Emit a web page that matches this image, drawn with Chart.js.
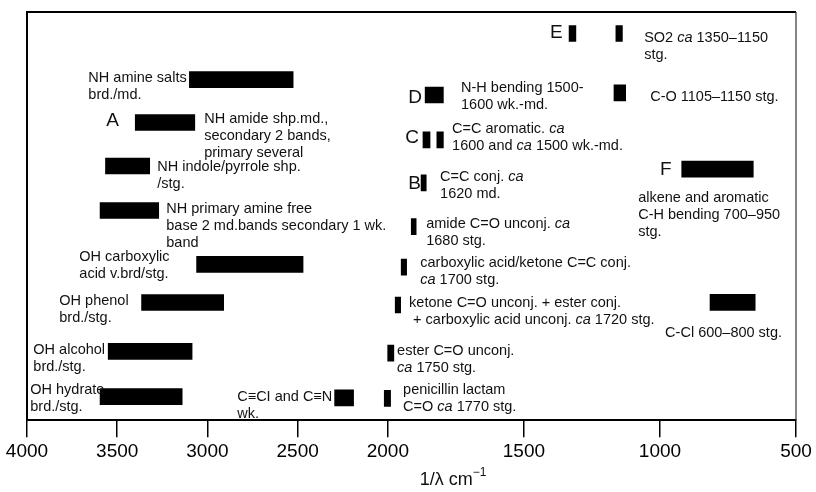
<!DOCTYPE html>
<html>
<head>
<meta charset="utf-8">
<script src="https://cdn.jsdelivr.net/npm/chart.js@4"></script>
<style>
html,body{margin:0;padding:0;background:#fff}
#wrap{width:816px;height:492px}
</style>
</head>
<body>
<div id="wrap"><canvas id="c" width="816" height="492"></canvas></div>
<script>
// ---------- data (wavenumbers in cm^-1, rows counted from the top) ----------
const bandNames = [
  "NH amine salts", "NH amide (A)", "NH indole/pyrrole", "NH primary amine",
  "OH carboxylic", "OH phenol", "OH alcohol", "OH hydrate", "C≡C / C≡N",
  "penicillin lactam", "ester C=O", "ketone C=O", "carboxylic acid/ketone conj.",
  "amide C=O", "C=C conj. (B)", "C=C aromatic (C) 1", "C=C aromatic (C) 2",
  "N-H bending (D)", "SO2 (E) 1", "SO2 (E) 2", "C-O", "alkene/aromatic C-H (F)", "C-Cl"
];
const bandHigh = [3100, 3400, 3565, 3595, 3060, 3365, 3550, 3595, 2295, 2020, 2001, 1973, 1951, 1914, 1878, 1871, 1820, 1863, 1334, 1162, 1169, 920, 816];
const bandLow  = [2525, 3070, 3320, 3270, 2470, 2910, 3085, 3140, 2190, 1990, 1978, 1953, 1931, 1896, 1859, 1845, 1796, 1796, 1309, 1138, 1126, 657, 650];
const bandRow  = [4.47, 7.31, 10.19, 13.13, 16.69, 19.22, 22.45, 25.44, 25.53, 25.56, 22.57, 19.38, 16.88, 14.2, 11.3, 8.46, 8.46, 5.49, 1.42, 1.42, 5.35, 10.39, 19.21];

const tickValues = [4000, 3500, 3000, 2500, 2000, 1500, 1000, 500];

// annotation texts (segments between * are italic), anchored at wavenumber / row
const labelLines = [
  ["NH amine salts", "brd./md."],
  ["A"],
  ["NH amide shp.md.,", "secondary 2 bands,", "primary several"],
  ["NH indole/pyrrole shp.", "/stg."],
  ["NH primary amine free", "base 2 md.bands secondary 1 wk.", "band"],
  ["OH carboxylic", "acid v.brd/stg."],
  ["OH phenol", "brd./stg."],
  ["OH alcohol", "brd./stg."],
  ["OH hydrate", "brd./stg."],
  ["C≡CI and C≡N", "wk."],
  ["E"],
  ["SO2 *ca* 1350–1150", "stg."],
  ["D"],
  ["N-H bending 1500-", "1600 wk.-md."],
  ["C-O 1105–1150 stg."],
  ["C"],
  ["C=C aromatic. *ca*", "1600 and *ca* 1500 wk.-md."],
  ["F"],
  ["B"],
  ["C=C conj. *ca*", "1620 md."],
  ["alkene and aromatic", "C-H bending 700–950", "stg."],
  ["amide C=O unconj. *ca*", "1680 stg."],
  ["carboxylic acid/ketone C=C conj.", "*ca* 1700 stg."],
  ["ketone C=O unconj. + ester conj.", " + carboxylic acid unconj. *ca* 1720 stg."],
  ["C-Cl 600–800 stg."],
  ["ester C=O unconj.", "*ca* 1750 stg."],
  ["penicillin lactam", "C=O *ca* 1770 stg."]
];
const labelX   = [3660, 3561, 3018, 3278, 3228, 3710, 3821, 3965, 3982, 2835, 1404, 1058, 1925, 1731, 1036, 1936, 1764, 1000, 1925, 1808, 1080, 1859, 1881, 1922, 981, 1966, 1944];
const labelRow = [4.39, 7.18, 7.05, 10.24, 13.03, 16.22, 19.15, 22.34, 25.0, 25.47, 1.40, 1.73, 5.65, 5.05, 5.65, 8.31, 7.71, 10.44, 11.35, 10.9, 12.3, 14.03, 16.62, 19.22, 21.21, 22.41, 25.0];
const bigLetters = ["A", "B", "C", "D", "E", "F"];

// ---------- chart ----------
const FONT = "'Liberation Sans', Arial, Helvetica, sans-serif";
const SCALE_RATIO = 1.508; // the axis is expanded below 2000 cm^-1
const toT = v => v >= 2000 ? 4000 - v : 2000 + (2000 - v) * SCALE_RATIO;

const bars = bandHigh.map((h, i) => ({ x: [toT(h), toT(bandLow[i])], y: bandRow[i] }));

function drawRich(ctx, text, x, y, size) {
  const parts = text.split('*');
  let cx = x;
  parts.forEach((p, i) => {
    ctx.font = (i % 2 ? 'italic ' : '') + size + 'px ' + FONT;
    ctx.fillText(p, cx, y);
    cx += ctx.measureText(p).width;
  });
}

const framePlugin = {
  id: 'frame',
  beforeDatasetsDraw(chart) {
    const { ctx, chartArea: a } = chart;
    ctx.save();
    ctx.strokeStyle = '#000';
    ctx.lineWidth = 2;
    ctx.beginPath();
    ctx.moveTo(a.left, a.bottom);
    ctx.lineTo(a.left, a.top);
    ctx.lineTo(a.right, a.top);
    ctx.stroke();
    ctx.lineWidth = 1.2;
    ctx.strokeStyle = '#333';
    ctx.beginPath();
    ctx.moveTo(a.right, a.top);
    ctx.lineTo(a.right, a.bottom);
    ctx.stroke();
    ctx.restore();
  }
};

const labelPlugin = {
  id: 'labels',
  afterDatasetsDraw(chart) {
    const { ctx, scales: { x, y }, chartArea: a } = chart;
    ctx.save();
    ctx.fillStyle = '#111';
    ctx.textBaseline = 'middle';
    ctx.textAlign = 'left';
    labelLines.forEach((lines, i) => {
      const px = x.getPixelForValue(toT(labelX[i]));
      const py = y.getPixelForValue(labelRow[i]);
      const big = lines.length === 1 && bigLetters.includes(lines[0]);
      lines.forEach((ln, j) => drawRich(ctx, ln, px, py + j * 17, big ? 19 : 14.5));
    });
    // axis title
    const tx = x.getPixelForValue(toT(1760));
    const ty = a.bottom + 60;
    ctx.font = '18px ' + FONT;
    const main = '1/λ cm';
    const w1 = ctx.measureText(main).width;
    ctx.font = '12px ' + FONT;
    const sup = '−1';
    const w2 = ctx.measureText(sup).width;
    const start = tx - (w1 + w2) / 2;
    ctx.font = '18px ' + FONT;
    ctx.fillText(main, start, ty);
    ctx.font = '12px ' + FONT;
    ctx.fillText(sup, start + w1, ty - 7);
    ctx.restore();
  }
};

new Chart(document.getElementById('c'), {
  type: 'bar',
  data: {
    datasets: [{
      label: 'IR bands',
      data: bars,
      backgroundColor: '#000',
      borderWidth: 0,
      barThickness: 16
    }]
  },
  options: {
    responsive: false,
    animation: false,
    indexAxis: 'y',
    layout: { padding: { left: 27, right: 20, top: 12, bottom: 25 } },
    plugins: { legend: { display: false }, tooltip: { enabled: false } },
    scales: {
      x: {
        type: 'linear',
        min: 0,
        max: toT(500),
        afterBuildTicks: ax => { ax.ticks = tickValues.map(v => ({ value: toT(v) })); },
        ticks: {
          callback: (val, i) => tickValues[i],
          font: { size: 19, family: FONT, lineHeight: 1.15 },
          color: '#000',
          padding: 4,
          maxRotation: 0,
          autoSkip: false
        },
        grid: { drawOnChartArea: false, drawTicks: true, tickLength: 17, color: '#000', lineWidth: 1.5 },
        border: { display: true, color: '#000', width: 2 }
      },
      y: { type: 'linear', reverse: true, min: 0, max: 27, offset: false, display: false }
    }
  },
  plugins: [framePlugin, labelPlugin]
});
</script>
</body>
</html>
